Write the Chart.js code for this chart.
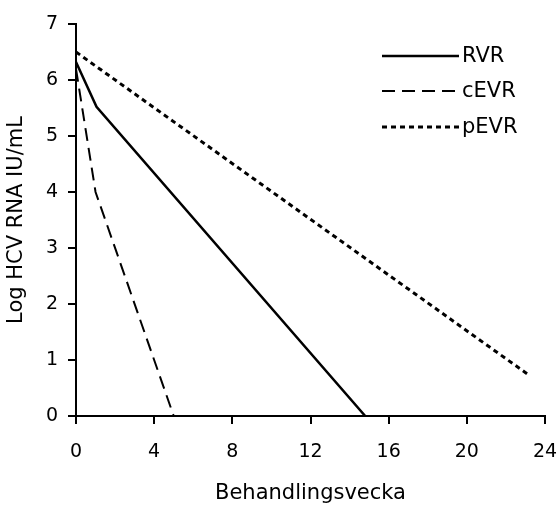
<!DOCTYPE html>
<html>
<head>
<meta charset="utf-8">
<script src="https://cdn.jsdelivr.net/npm/chart.js@4/dist/chart.umd.min.js"></script>
<style>
  body { margin: 0; background: #fff; }
  #wrap { width: 560px; height: 506px; }
</style>
</head>
<body>
<div id="wrap"><canvas id="c"></canvas></div>
<script>
// data
var seriesNames = ['RVR', 'cEVR', 'pEVR'];
var rvrWeeks = [0, 1.05, 14.8];
var rvrLog = [6.32, 5.52, 0];
var cevrWeeks = [0, 1, 5.0];
var cevrLog = [6.2, 4.0, 0];
var pevrWeeks = [0, 23.1];
var pevrLog = [6.5, 0.75];
var xTicks = [0, 4, 8, 12, 16, 20, 24];
var yTicks = [0, 1, 2, 3, 4, 5, 6, 7];

function pts(xs, ys) {
  return xs.map(function (x, i) { return { x: x, y: ys[i] }; });
}

var styles = [
  { borderWidth: 2.5, borderDash: [] },
  { borderWidth: 2, borderDash: [13, 7] },
  { borderWidth: 3, borderDash: [5, 4] }
];

var Cdata = {
  datasets: [
    pts(rvrWeeks, rvrLog),
    pts(cevrWeeks, cevrLog),
    pts(pevrWeeks, pevrLog)
  ].map(function (d, i) {
    return {
      label: seriesNames[i],
      data: d,
      borderColor: '#000',
      borderWidth: styles[i].borderWidth,
      borderDash: styles[i].borderDash,
      pointRadius: 0,
      fill: false,
      tension: 0
    };
  })
};

var fam = '"DejaVu Sans", "Liberation Sans", sans-serif';

// legend drawn inside the plot, top right
var legendPlugin = {
  id: 'insideLegend',
  afterDraw: function (chart) {
    var ctx = chart.ctx;
    var rows = [56, 91, 127];
    ctx.save();
    chart.data.datasets.forEach(function (ds, i) {
      ctx.beginPath();
      ctx.lineWidth = ds.borderWidth;
      ctx.setLineDash(ds.borderDash);
      ctx.strokeStyle = '#000';
      ctx.moveTo(382, rows[i]);
      ctx.lineTo(459, rows[i]);
      ctx.stroke();
      ctx.setLineDash([]);
      ctx.fillStyle = '#000';
      ctx.font = '21px ' + fam;
      ctx.textBaseline = 'middle';
      ctx.fillText(ds.label, 462, rows[i] + 1);
    });
    ctx.restore();
  }
};

var tickFont = { family: fam, size: 19 };
var titleFont = { family: fam, size: 21 };

var Cconfig = {
  type: 'line',
  data: Cdata,
  options: {
    responsive: true,
    maintainAspectRatio: false,
    animation: false,
    layout: { padding: { top: 24, right: 15, left: 0, bottom: 0 } },
    plugins: {
      legend: { display: false },
      tooltip: { enabled: false }
    },
    scales: {
      x: {
        type: 'linear',
        min: 0,
        max: 24,
        afterBuildTicks: function (s) { s.ticks = xTicks.map(function (v) { return { value: v }; }); },
        grid: { drawOnChartArea: false, drawTicks: true, tickLength: 8, color: '#000', lineWidth: 2 },
        border: { display: true, color: '#000', width: 2 },
        ticks: { color: '#000', font: tickFont, padding: 17, maxRotation: 0 },
        title: { display: true, text: 'Behandlingsvecka', color: '#000', font: titleFont, padding: { top: 12, bottom: 0 } },
        afterFit: function (s) { s.height = 90; s.paddingRight = 12; s.paddingLeft = 0; }
      },
      y: {
        type: 'linear',
        min: 0,
        max: 7,
        afterBuildTicks: function (s) { s.ticks = yTicks.map(function (v) { return { value: v }; }); },
        grid: { drawOnChartArea: false, drawTicks: true, tickLength: 8, color: '#000', lineWidth: 2 },
        border: { display: true, color: '#000', width: 2 },
        ticks: { color: '#000', font: tickFont, padding: 10 },
        title: { display: true, text: 'Log HCV RNA IU/mL', color: '#000', font: titleFont, padding: { top: 4, bottom: 4 } },
        afterFit: function (s) { s.width = 76; }
      }
    }
  },
  plugins: [legendPlugin]
};

var HcvChart = new Chart(document.getElementById('c'), Cconfig);
</script>
</body>
</html>
